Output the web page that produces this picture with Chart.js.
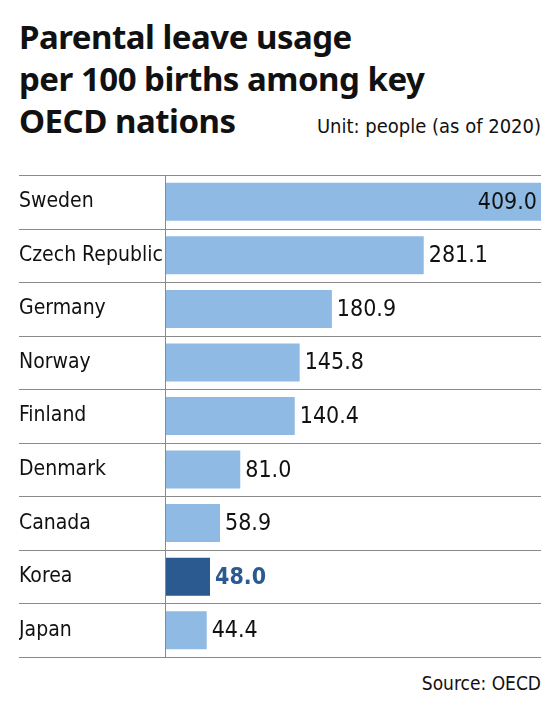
<!DOCTYPE html>
<html><head><meta charset="utf-8">
<script src="https://cdn.jsdelivr.net/npm/chart.js@4"></script>
<style>
body{margin:0;background:#fff;width:560px;height:708px;position:relative;overflow:hidden}
#title{position:absolute;left:19px;top:16px;font:bold 33px/42px "Noto Sans",sans-serif;color:#111;letter-spacing:-0.5px}
#unit{position:absolute;right:19px;top:114px;font:20px "Liberation Sans Narrow","DejaVu Sans Condensed",sans-serif;color:#111}
#src{position:absolute;right:19px;top:672px;font:19px "Liberation Sans Narrow","DejaVu Sans Condensed",sans-serif;color:#111}
canvas{position:absolute;left:0;top:0}
</style></head><body>
<div id="title">Parental leave usage<br>per 100 births among key<br>OECD nations</div>
<div id="unit">Unit: people (as of 2020)</div>
<div id="src">Source: OECD</div>
<canvas id="c" width="560" height="708"></canvas>
<script>
const countries = ['Sweden','Czech Republic','Germany','Norway','Finland','Denmark','Canada','Korea','Japan'];
const usage = [409.0, 281.1, 180.9, 145.8, 140.4, 81.0, 58.9, 48.0, 44.4];
const highlight = 'Korea';

const FONT = '"Liberation Sans Narrow","DejaVu Sans Condensed",sans-serif';
const LIGHT = '#8fbae4', DARK = '#2a5a8f', LINE = '#8a8a8a';

const framePlugin = {
    id: 'frame',
    afterDatasetsDraw(chart) {
        const { ctx, chartArea: a, scales: { y } } = chart;
        const half = (y.getPixelForValue(1) - y.getPixelForValue(0)) / 2;
        ctx.save();
        ctx.strokeStyle = LINE;
        ctx.lineWidth = 1;
        for (let i = 0; i <= countries.length; i++) {
            const py = Math.round(y.getPixelForValue(i) - half) + 0.5;
            ctx.beginPath(); ctx.moveTo(19, py); ctx.lineTo(a.right, py); ctx.stroke();
        }
        ctx.beginPath(); ctx.moveTo(a.left - 0.5, a.top); ctx.lineTo(a.left - 0.5, a.bottom); ctx.stroke();
        // value labels
        const meta = chart.getDatasetMeta(0);
        ctx.textBaseline = 'middle';
        meta.data.forEach((bar, i) => {
            const isHi = countries[i] === highlight;
            ctx.font = (isHi ? 'bold ' : '') + '23px ' + FONT;
            ctx.fillStyle = isHi ? DARK : '#111';
            const txt = usage[i].toFixed(1);
            if (bar.x > a.right - 60) {
                ctx.textAlign = 'right';
                ctx.fillText(txt, bar.x - 4, bar.y + 1);
            } else {
                ctx.textAlign = 'left';
                ctx.fillText(txt, bar.x + 5, bar.y + 1);
            }
        });
        ctx.restore();
    }
};

new Chart(document.getElementById('c'), {
    type: 'bar',
    data: {
        labels: countries,
        datasets: [{
            data: usage,
            backgroundColor: countries.map((c) => c === highlight ? DARK : LIGHT),
            categoryPercentage: 1,
            barPercentage: 0.71
        }]
    },
    options: {
        indexAxis: 'y',
        responsive: false,
        animation: false,
        layout: { padding: { left: 19, right: 19, top: 175, bottom: 51 } },
        plugins: { legend: { display: false }, tooltip: { enabled: false } },
        scales: {
            x: { display: false, min: 0, max: 409 },
            y: {
                grid: { display: false },
                border: { display: false },
                afterFit: (s) => { s.width = 147; },
                ticks: { crossAlign: 'far', padding: 0, color: '#111', font: { family: FONT, size: 21 } }
            }
        }
    },
    plugins: [framePlugin]
});
</script>
</body></html>
